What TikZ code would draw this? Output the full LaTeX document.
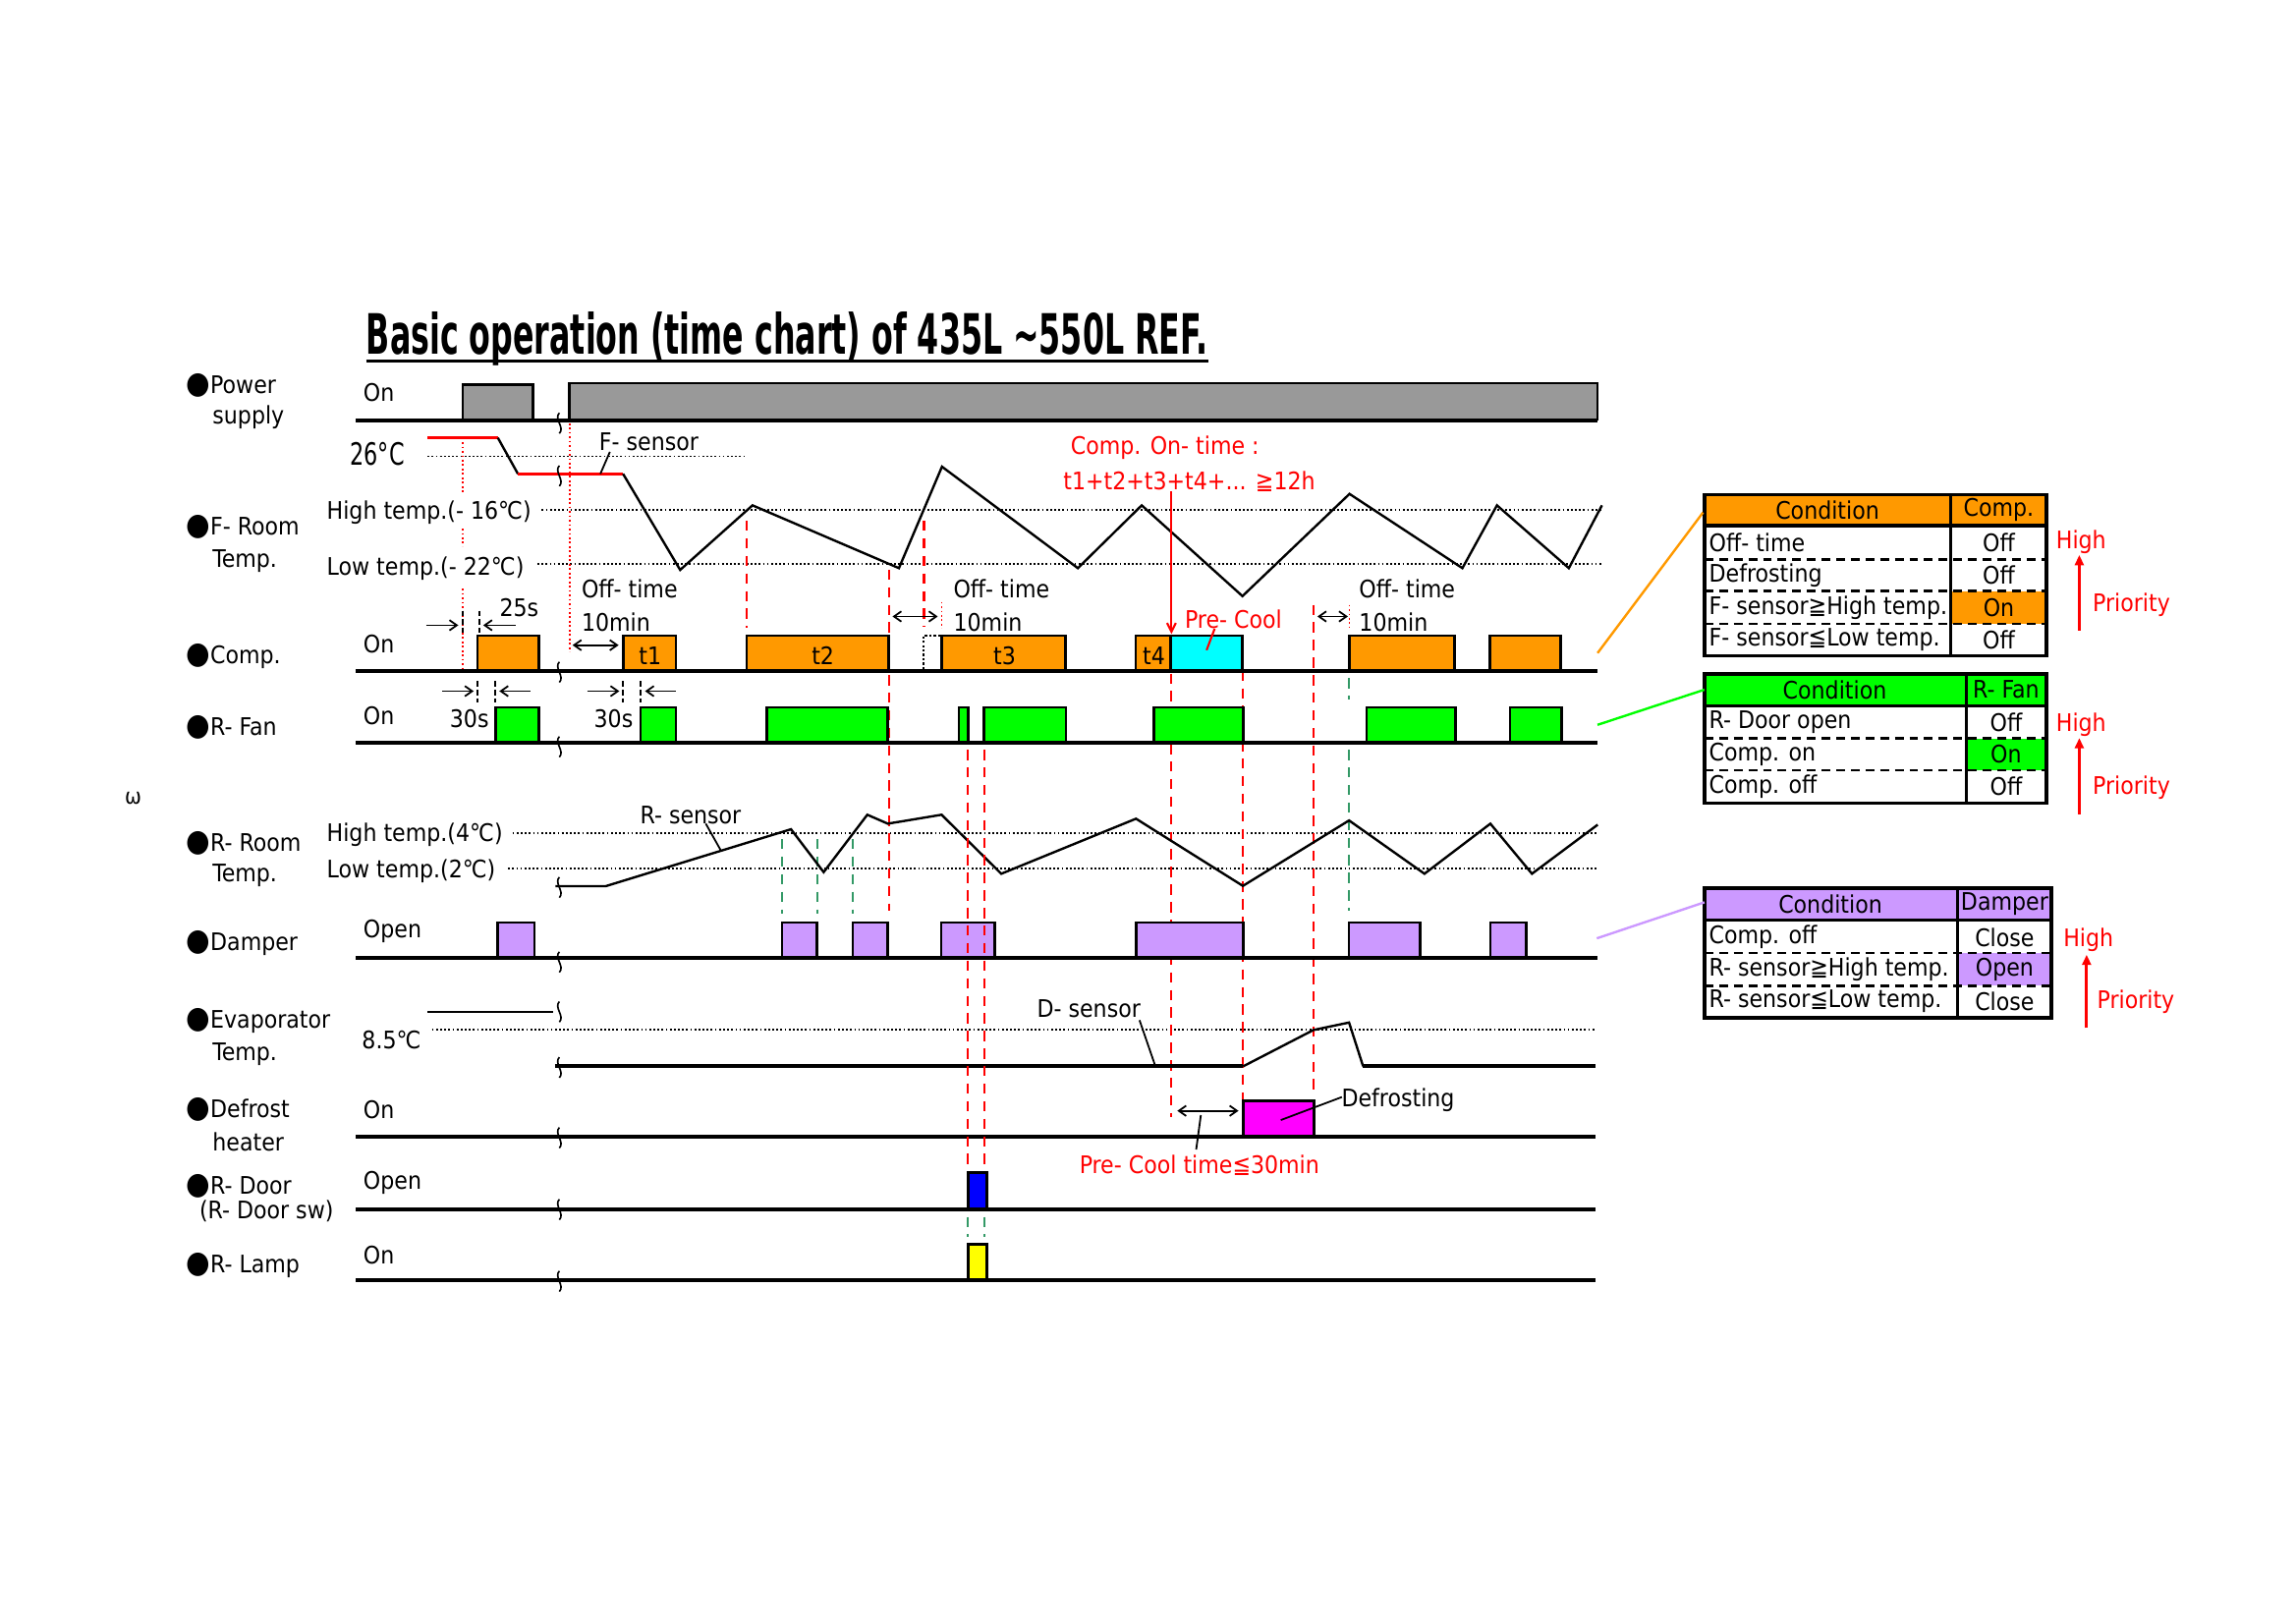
\documentclass[tikz,border=0pt]{standalone}
\usepackage{fontspec}
\setmainfont{DejaVu Sans Condensed}
\usetikzlibrary{arrows.meta}
\definecolor{pgray}{HTML}{999999}
\definecolor{porange}{HTML}{FF9900}
\definecolor{pgreen}{HTML}{00FF00}
\definecolor{pcyan}{HTML}{00FFFF}
\definecolor{plav}{HTML}{CC99FF}
\definecolor{pmag}{HTML}{FF00FF}
\definecolor{pblue}{HTML}{0000FF}
\definecolor{pyellow}{HTML}{FFFF00}
\definecolor{pred}{HTML}{FF0000}
\definecolor{dgreen}{HTML}{339966}
\newcommand\lblf{\fontsize{16.5}{18}\selectfont}
\newcommand\bul{{\fontsize{21}{18}\selectfont ●}}
\newcommand\squig[2]{\draw[line width=1.1pt] (#1,#2-7) .. controls (#1-4,#2-3) and (#1+4,#2+3) .. (#1,#2+7);}
\begin{document}
\begin{tikzpicture}[x=1pt,y=-1pt,
  txt/.style={font=\lblf, inner sep=0pt, anchor=west},
  ctxt/.style={font=\lblf, inner sep=0pt, anchor=center},
  rtxt/.style={txt, text=pred},
  baseln/.style={line width=2.6pt},
  sbox/.style={draw, line width=1.8pt},
  curve/.style={line width=1.6pt},
  dotref/.style={line width=1.2pt, dash pattern=on 1.2pt off 1.6pt},
  reddot/.style={pred, line width=1.1pt, dash pattern=on 1.2pt off 1.8pt},
  reddash/.style={pred, line width=1.4pt, dash pattern=on 7pt off 5pt},
  grdash/.style={dgreen, line width=1.4pt, dash pattern=on 7pt off 5pt},
  tick/.style={line width=1pt, dash pattern=on 4pt off 2pt},
  arr/.style={line width=1.2pt, -{Straight Barb[length=5pt,width=7pt]}},
  darr/.style={line width=1.2pt, {Straight Barb[length=5pt,width=7pt]}-{Straight Barb[length=5pt,width=7pt]}},
  leader/.style={line width=1.2pt},
  tabout/.style={draw, line width=2.4pt},
  tabdash/.style={line width=1.8pt, dash pattern=on 6pt off 4pt}
]
\useasboundingbox (0,0) rectangle (1568,1109);

% ---------- title ----------
\node[inner sep=0pt, anchor=base west] (title) at (250,242)
  {\resizebox{575pt}{\height}{\fontsize{38}{40}\selectfont\bfseries Basic operation (time chart) of 435L \textasciitilde550L REF.}};
\draw[line width=1.8pt] (250,246.5) -- (825,246.5);

% ---------- left labels ----------
\node[txt] (lpow) at (127,263) {\bul Power};
\node[txt] (lpow2) at (145,285) {supply};
\node[txt] (lfr) at (127,360) {\bul F- Room};
\node[txt] (lfr2) at (145,383) {Temp.};
\node[txt] (lcomp) at (127,448) {\bul Comp.};
\node[txt] (lfan) at (127,497) {\bul R- Fan};
\node[txt] (lrr) at (127,576) {\bul R- Room};
\node[txt] (lrr2) at (145,598) {Temp.};
\node[txt] (ldamp) at (127,644) {\bul Damper};
\node[txt] (levap) at (127,697) {\bul Evaporator};
\node[txt] (levap2) at (145,720) {Temp.};
\node[txt] (ldef) at (127,758) {\bul Defrost};
\node[txt] (ldef2) at (145,780) {heater};
\node[txt] (ldoor) at (127,810) {\bul R- Door};
\node[txt] (ldoor2) at (136,827) {(R- Door sw)};
\node[txt] (llamp) at (127,864) {\bul R- Lamp};
\node[ctxt, font=\fontsize{15}{16}\selectfont] (omega) at (91,545) {ω};

% state labels
\node[txt] (spow) at (248,268) {On};
\node[txt] (scomp) at (248,440) {On};
\node[txt] (sfan) at (248,489) {On};
\node[txt] (sdamp) at (248,636) {Open};
\node[txt] (sevap) at (247,710) {8.5℃};
\node[txt] (sdef) at (248,758) {On};
\node[txt] (sdoor) at (248,808) {Open};
\node[txt] (slamp) at (248,857) {On};

\node[txt] (fhigh) at (223,350) {High temp.(- 16℃)};
\node[txt] (flow) at (223,388) {Low temp.(- 22℃)};
\node[txt] (rhigh) at (223,570) {High temp.(4℃)};
\node[txt] (rlow) at (223,595) {Low temp.(2℃)};
\node[txt, font=\fontsize{21}{22}\selectfont] (t26) at (239,310) {\resizebox{37pt}{\height}{26°C}};

% ---------- dotted reference lines ----------
\draw[dotref] (292,311.6) -- (510,311.6);
\draw[dotref] (370,348.2) -- (1094,348.2);
\draw[dotref] (367,385.2) -- (1094,385.2);
\draw[dotref] (350,568.7) -- (1091,568.7);
\draw[dotref] (347,593.1) -- (1091,593.1);
\draw[dotref] (295,703.4) -- (1090,703.4);

% ---------- vertical guide lines (behind) ----------
\draw[reddot] (316,299) -- (316,336) (316,361) -- (316,373) (316,402) -- (316,458);
\draw[reddot] (389,286) -- (389,445);
\draw[reddash] (510,355.6) -- (510,429);
\draw[reddash] (607,389) -- (607,622);
\draw[reddash] (631,355.6) -- (631,428);
\draw[reddot] (643,411) -- (643,429);
\draw[reddot] (921.6,413) -- (921.6,429);
\draw[reddash] (800,460) -- (800,763);
\draw[reddash] (848.9,458) -- (848.9,752);
\draw[reddash] (897,413) -- (897,748);
\draw[grdash] (534,573) -- (534,624);
\draw[grdash] (558,573) -- (558,624);
\draw[grdash] (582.3,573) -- (582.3,624);
\draw[grdash] (921.3,463) -- (921.3,478) (921.3,512) -- (921.3,622);
\draw[grdash] (661,831) -- (661,845);
\draw[grdash] (672.5,831) -- (672.5,845);

% ---------- power supply ----------
\draw[sbox, fill=pgray] (316,287) -- (316,262.6) -- (364,262.6) -- (364,287);
\draw[sbox, fill=pgray] (389,287) -- (389,261.7) -- (1091,261.7) -- (1091,287);
\draw[baseln] (243,287) -- (1091,287);

% ---------- F-room temperature ----------
\draw[pred, line width=1.8pt] (292,299) -- (340,299);
\draw[curve] (340,299) -- (353.7,323.6);
\draw[pred, line width=1.8pt] (353.7,323.6) -- (425.5,323.6);
\draw[curve] (425.5,323.6) -- (464.5,389.2) -- (513.9,345.1) -- (613.9,388) -- (643.3,318.7)
  -- (736.1,388) -- (779.7,345.1) -- (848.5,407.1) -- (921.6,337.3) -- (998.7,388)
  -- (1022.3,345.1) -- (1071.4,388) -- (1094,345.1);
\node[txt] (fsens) at (409,302) {F- sensor};
\draw[leader] (416.5,308.6) -- (410,323.6);

% ---------- comp ----------
\draw[sbox, fill=porange] (326,458) rectangle (368,434);
\draw[sbox, fill=porange] (425.5,458) rectangle (461.5,434);
\draw[sbox, fill=porange] (510,458) rectangle (607,434);
\draw[sbox, fill=porange] (643,458) rectangle (727.7,434);
\draw[sbox, fill=porange] (775.7,458) rectangle (799.4,434);
\draw[sbox, fill=pcyan] (799.4,458) rectangle (848.5,434);
\draw[sbox, fill=porange] (921.6,458) rectangle (993.2,434);
\draw[sbox, fill=porange] (1017.6,458) rectangle (1066,434);
\draw[line width=1.2pt, dash pattern=on 1.5pt off 1.5pt] (630.6,457) -- (630.6,434) -- (642,434);
\draw[baseln] (243,458) -- (1091,458);
\node[ctxt] (t1) at (444,448) {t1};
\node[ctxt] (t2) at (562,448) {t2};
\node[ctxt] (t3) at (686,448) {t3};
\node[ctxt] (t4) at (788,448) {t4};

\node[txt] (s25) at (341,415) {25s};
\draw[arr] (291,427) -- (313,427);
\draw[tick] (316,417) -- (316,432);
\draw[tick] (327.3,417) -- (327.3,432);
\draw[arr] (352,427) -- (330,427);

\node[txt] (off1) at (397,402) {Off- time};
\node[txt] (min1) at (397,425) {10min};
\draw[darr] (391,440.6) -- (422.5,440.6);
\node[txt] (off2) at (651,402) {Off- time};
\node[txt] (min2) at (651,425) {10min};
\draw[darr] (609.5,421) -- (640.4,421);
\node[txt] (off3) at (928,402) {Off- time};
\node[txt] (min3) at (928,425) {10min};
\draw[darr] (899.7,421) -- (920.5,421);

\node[rtxt] (cot1) at (731,306) {Comp. On- time :};
\node[rtxt] (cot2) at (726,329) {t1+t2+t3+t4+... ≧12h};
\draw[pred, line width=1.4pt, -{Straight Barb[length=6pt,width=6pt]}] (800,335.5) -- (800,433);
\node[rtxt] (pcool) at (809,423) {Pre- Cool};
\draw[pred, line width=1.4pt] (829.5,429.4) -- (824,444);

% ---------- R-fan ----------
\draw[sbox, fill=pgreen] (338.3,507) rectangle (368.1,483.1);
\draw[sbox, fill=pgreen] (437.5,507) rectangle (461.5,483.1);
\draw[sbox, fill=pgreen] (523.8,507) rectangle (606.3,483.1);
\draw[sbox, fill=pgreen] (654.8,507) rectangle (661.4,483.1);
\draw[sbox, fill=pgreen] (672.1,507) rectangle (727.9,483.1);
\draw[sbox, fill=pgreen] (787.8,507) rectangle (849.1,483.1);
\draw[sbox, fill=pgreen] (933.3,507) rectangle (994.1,483.1);
\draw[sbox, fill=pgreen] (1031.2,507) rectangle (1066.6,483.1);
\draw[baseln] (243,507) -- (1091,507);
\node[txt] (s30a) at (307,491) {30s};
\node[txt] (s30b) at (405.5,491) {30s};
\draw[arr] (302,472) -- (323.5,472);
\draw[tick] (326.1,465) -- (326.1,480);
\draw[tick] (338.1,465) -- (338.1,480);
\draw[arr] (362,472) -- (341,472);
\draw[arr] (401,472) -- (423,472);
\draw[tick] (425.5,465) -- (425.5,480);
\draw[tick] (437.5,465) -- (437.5,480);
\draw[arr] (461.5,472) -- (440.5,472);

% ---------- R-room temperature ----------
\draw[curve] (379.3,605.2) -- (413.6,605.2) -- (540.2,566.3) -- (562.5,595.6) -- (592.3,556.4)
  -- (606.3,562.5) -- (643,556.4) -- (683.8,596.7) -- (775.8,559.1) -- (848.8,605)
  -- (921.3,560.3) -- (972.8,596.7) -- (1017.8,562.5) -- (1046.2,596.7) -- (1091.1,563.2);
\node[txt] (rsens) at (437,557) {R- sensor};
\draw[leader] (482,562.5) -- (492.3,580.8);

% ---------- damper ----------
\draw[sbox, fill=plav] (340,654) rectangle (365,630);
\draw[sbox, fill=plav] (534,654) rectangle (558,630);
\draw[sbox, fill=plav] (582.3,654) rectangle (606.3,630);
\draw[sbox, fill=plav] (642.8,654) rectangle (679.3,630);
\draw[sbox, fill=plav] (775.8,654) rectangle (848.9,630);
\draw[sbox, fill=plav] (921.3,654) rectangle (969.8,630);
\draw[sbox, fill=plav] (1017.8,654) rectangle (1042.3,630);
\draw[baseln] (243,654) -- (1091,654);

% ---------- evaporator ----------
\draw[line width=1.8pt] (292,691) -- (377.5,691);
\draw[baseln] (379,728.2) -- (849,728.2);
\draw[curve] (849,728.2) -- (897,703.4) -- (921.3,698.3) -- (930.9,728.2);
\draw[baseln] (930.9,728.2) -- (1089.6,728.2);
\node[txt] (dsens) at (708,689) {D- sensor};
\draw[leader] (778.2,696.7) -- (788.6,726.9);

% ---------- defrost heater ----------
\draw[sbox, fill=pmag] (849,776.5) rectangle (897.2,752);
\draw[baseln] (243,776.5) -- (1089.7,776.5);
\node[txt] (defr) at (916,751) {Defrosting};
\draw[leader] (916.4,749.2) -- (874.7,764.9);
\draw[darr] (804,758.6) -- (845.8,758.6);
\draw[leader] (820.1,761.5) -- (816.9,785);
\node[rtxt] (pctime) at (737,796) {Pre- Cool time≦30min};

% ---------- R-door / R-lamp ----------
\draw[sbox, fill=pblue] (661,825.7) rectangle (673.8,800.7);
\draw[baseln] (243,825.7) -- (1089.7,825.7);
\draw[sbox, fill=pyellow] (661,874.5) rectangle (673.8,849.9);
\draw[baseln] (243,874.5) -- (1089.7,874.5);

% red dashed over door region (drawn on top)
\draw[reddash] (661,512) -- (661,795);
\draw[reddash] (672.5,512) -- (672.5,795);

% ---------- break marks ----------
\squig{382}{289}
\squig{382}{325}
\squig{382}{459}
\squig{382}{510}
\squig{382}{606}
\squig{382}{657}
\squig{382}{691}
\squig{382}{729}
\squig{382}{777}
\squig{382}{826}
\squig{382}{875}

% ---------- table 1: Comp ----------
\fill[porange] (1164,337.7) rectangle (1397.5,359);
\fill[porange] (1332.3,403.7) rectangle (1397.5,426.1);
\draw[tabdash] (1164,382) -- (1397.5,382) (1164,403.7) -- (1397.5,403.7) (1164,426.1) -- (1397.5,426.1);
\draw[line width=2.2pt] (1164,359) -- (1397.5,359);
\draw[line width=2.2pt] (1332.3,337.7) -- (1332.3,447.8);
\draw[tabout] (1164,337.7) rectangle (1397.5,447.8);
\node[ctxt] (t1h1) at (1248,348.5) {Condition};
\node[ctxt] (t1h2) at (1365,348.5) {Comp.};
\node[txt] (t1a) at (1167,370.5) {Off- time};
\node[txt] (t1b) at (1167,393) {Defrosting};
\node[txt] (t1c) at (1167,415) {F- sensor≧High temp.};
\node[txt] (t1d) at (1167,437) {F- sensor≦Low temp.};
\node[ctxt] (t1av) at (1365,370.5) {Off};
\node[ctxt] (t1bv) at (1365,393) {Off};
\node[ctxt] (t1cv) at (1365,415) {On};
\node[ctxt] (t1dv) at (1365,437) {Off};
\node[rtxt] (hi1) at (1404,370) {High};
\node[rtxt] (pr1) at (1429,413) {Priority};
\draw[pred, line width=2pt, -{Triangle[length=7pt,width=6pt]}] (1420,430.5) -- (1420,379);
\draw[porange, line width=1.6pt] (1091,446) -- (1163,350);

% ---------- table 2: R-Fan ----------
\fill[pgreen] (1164,460.1) rectangle (1397.5,482);
\fill[pgreen] (1343.1,504.4) rectangle (1397.5,526);
\draw[tabdash] (1164,504.4) -- (1397.5,504.4) (1164,526) -- (1397.5,526);
\draw[line width=2.2pt] (1164,482) -- (1397.5,482);
\draw[line width=2.2pt] (1343.1,460.1) -- (1343.1,548.4);
\draw[tabout] (1164,460.1) rectangle (1397.5,548.4);
\node[ctxt] (t2h1) at (1253,471) {Condition};
\node[ctxt] (t2h2) at (1370,471) {R- Fan};
\node[txt] (t2a) at (1167,493.5) {R- Door open};
\node[txt] (t2b) at (1167,515) {Comp. on};
\node[txt] (t2c) at (1167,537) {Comp. off};
\node[ctxt] (t2av) at (1370,493.5) {Off};
\node[ctxt] (t2bv) at (1370,515) {On};
\node[ctxt] (t2cv) at (1370,537) {Off};
\node[rtxt] (hi2) at (1404,495) {High};
\node[rtxt] (pr2) at (1429,538) {Priority};
\draw[pred, line width=2pt, -{Triangle[length=7pt,width=6pt]}] (1420,556) -- (1420,504);
\draw[pgreen, line width=1.6pt] (1091,495) -- (1164,471);

% ---------- table 3: Damper ----------
\fill[plav] (1164,606.6) rectangle (1401,628.5);
\fill[plav] (1336.7,650.8) rectangle (1401,673.2);
\draw[tabdash] (1164,650.8) -- (1401,650.8) (1164,673.2) -- (1401,673.2);
\draw[line width=2.2pt] (1164,628.5) -- (1401,628.5);
\draw[line width=2.2pt] (1336.7,606.6) -- (1336.7,695.1);
\draw[tabout] (1164,606.6) rectangle (1401,695.1);
\node[ctxt] (t3h1) at (1250,617.5) {Condition};
\node[ctxt] (t3h2) at (1369,617.5) {Damper};
\node[txt] (t3a) at (1167,640) {Comp. off};
\node[txt] (t3b) at (1167,662) {R- sensor≧High temp.};
\node[txt] (t3c) at (1167,684) {R- sensor≦Low temp.};
\node[ctxt] (t3av) at (1369,640) {Close};
\node[ctxt] (t3bv) at (1369,662) {Open};
\node[ctxt] (t3cv) at (1369,684) {Close};
\node[rtxt] (hi3) at (1409,642) {High};
\node[rtxt] (pr3) at (1432,684) {Priority};
\draw[pred, line width=2pt, -{Triangle[length=7pt,width=6pt]}] (1425,702) -- (1425,652);
\draw[plav, line width=1.6pt] (1090.5,640.8) -- (1164,616.2);
\end{tikzpicture}
\end{document}
